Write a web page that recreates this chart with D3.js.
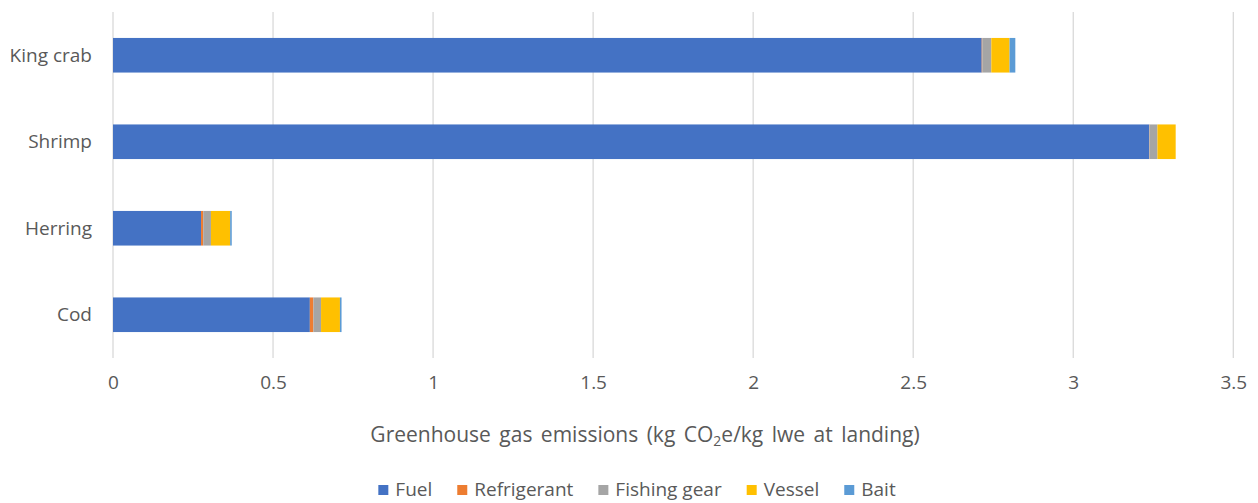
<!DOCTYPE html>
<html><head><meta charset="utf-8">
<script src="https://cdn.jsdelivr.net/npm/d3@7"></script>
<style>body{margin:0;background:#fff}svg{display:block;font-family:"Open Sans",sans-serif}</style>
</head><body><svg id="c" width="1258" height="503"></svg>
<script>
const categories = ["King crab", "Shrimp", "Herring", "Cod"];
const seriesNames = ["Fuel", "Refrigerant", "Fishing gear", "Vessel", "Bait"];
const fuel        = [2.714, 3.237, 0.275, 0.615];
const refrigerant = [0.002, 0.001, 0.007, 0.011];
const fishingGear = [0.028, 0.025, 0.024, 0.024];
const vessel      = [0.057, 0.057, 0.060, 0.059];
const bait        = [0.018, 0.000, 0.005, 0.005];
const xTicks = [0, 0.5, 1, 1.5, 2, 2.5, 3, 3.5];
const colors = ["#4472C4", "#ED7D31", "#A5A5A5", "#FFC000", "#5B9BD5"];

const seriesVals = [fuel, refrigerant, fishingGear, vessel, bait];
const rows = categories.map((c, i) => {
  const r = {cat: c};
  seriesNames.forEach((s, k) => r[s] = seriesVals[k][i]);
  return r;
});
const stack = d3.stack().keys(seriesNames)(rows);

const svg = d3.select("#c");
const x = d3.scaleLinear().domain([0, 3.5]).range([113, 1233.3]);
const y = d3.scaleBand().domain(categories).range([12, 358]).paddingInner(0.6).paddingOuter(0.3);
const textCol = "#595959";

// gridlines
svg.append("g").selectAll("line").data(xTicks).join("line")
  .attr("x1", d => x(d)).attr("x2", d => x(d)).attr("y1", 12).attr("y2", 358)
  .attr("stroke", "#D9D9D9").attr("stroke-width", 1.3);

// bars
svg.append("g").selectAll("g").data(stack).join("g")
  .attr("fill", (d, i) => colors[i])
  .selectAll("rect").data(d => d).join("rect")
  .attr("x", d => x(d[0])).attr("width", d => Math.max(0, x(d[1]) - x(d[0])))
  .attr("y", d => y(d.data.cat)).attr("height", y.bandwidth());

// category labels
svg.append("g").selectAll("text").data(categories).join("text")
  .attr("x", 92).attr("y", d => y(d) + y.bandwidth() / 2)
  .attr("dy", "0.35em").attr("text-anchor", "end")
  .attr("fill", textCol).attr("font-size", 19).text(d => d);

// x tick labels
const xa = svg.append("g").attr("transform", "translate(0,375)")
  .call(d3.axisBottom(x).tickValues(xTicks).tickSize(0).tickPadding(0).tickFormat(d3.format("")));
xa.select(".domain").remove();
xa.selectAll("text").attr("fill", textCol).attr("font-size", 19).attr("font-family", "Open Sans");

// axis title
const t = svg.append("text").attr("x", 645).attr("y", 442).attr("text-anchor", "middle")
  .attr("fill", textCol).attr("font-size", 21).attr("word-spacing", 3);
t.append("tspan").text("Greenhouse gas emissions (kg CO");
t.append("tspan").text("2").attr("font-size", 14).attr("dy", 4);
t.append("tspan").text("e/kg lwe at landing)").attr("dy", -4);

// legend
const lg = svg.append("g");
const items = lg.selectAll("g").data(seriesNames).join("g");
items.append("rect").attr("width", 10).attr("height", 10).attr("y", -11).attr("fill", (d, i) => colors[i]);
items.append("text").attr("x", 17).attr("y", 0).attr("fill", textCol).attr("font-size", 19).text(d => d);
let cx = 0;
items.each(function () {
  const w = this.querySelector("text").getComputedTextLength() + 17;
  d3.select(this).attr("transform", `translate(${cx},0)`);
  cx += w + 25;
});
const total = cx - 25;
lg.attr("transform", `translate(${637 - total / 2},496)`);
</script></body></html>
